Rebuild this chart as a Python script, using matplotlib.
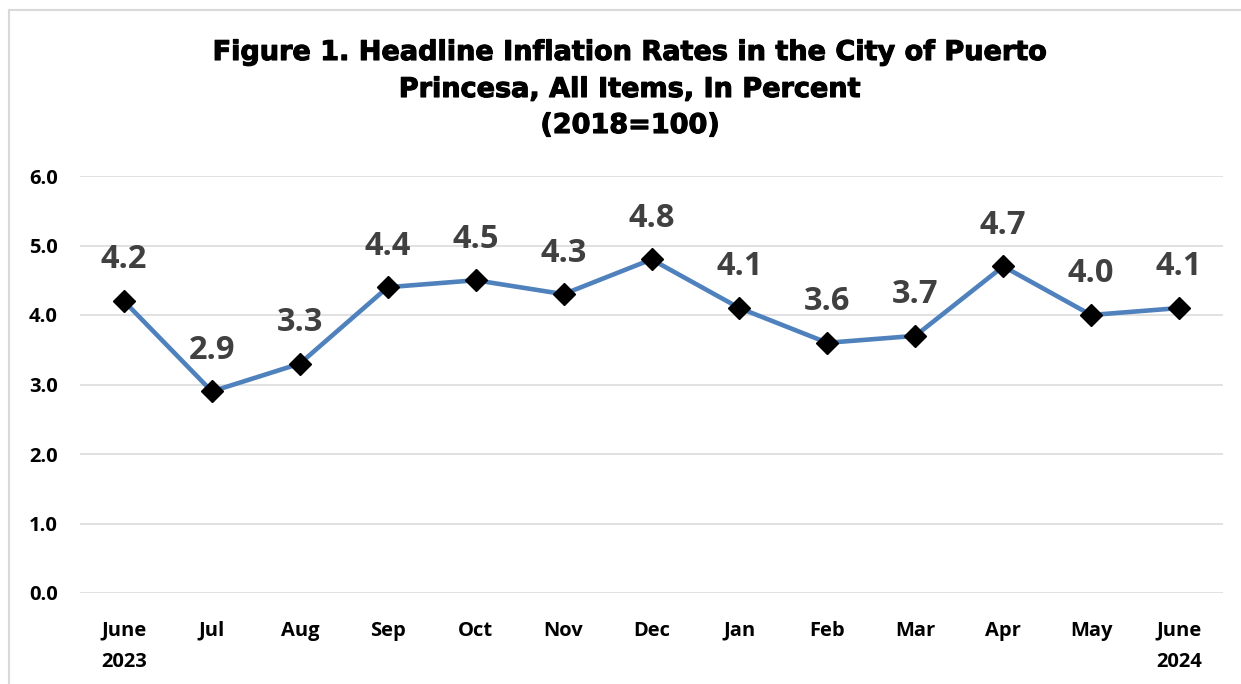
import matplotlib
matplotlib.use("Agg")
import matplotlib.pyplot as plt
import matplotlib.patheffects as pe
from matplotlib.lines import Line2D
import numpy as np

# data
months = ["June\n2023", "Jul", "Aug", "Sep", "Oct", "Nov", "Dec",
          "Jan", "Feb", "Mar", "Apr", "May", "June\n2024"]
inflation = [4.2, 2.9, 3.3, 4.4, 4.5, 4.3, 4.8, 4.1, 3.6, 3.7, 4.7, 4.0, 4.1]
y_ticks = [0.0, 1.0, 2.0, 3.0, 4.0, 5.0, 6.0]

title_lines = ["Figure 1. Headline Inflation Rates in the City of Puerto",
               "Princesa, All Items, In Percent",
               "(2018=100)"]

W, H = 1241, 684
fig = plt.figure(figsize=(W / 100, H / 100), dpi=100)
ax = fig.add_axes([80 / W, 1 - 593 / H, (1223 - 80) / W, (593 - 176) / H])

x = np.arange(len(months))
ax.plot(x, inflation, color="#4F81BD", linewidth=3.3, marker="D",
        markersize=11, markerfacecolor="black", markeredgecolor="black",
        zorder=3)

# data labels above points
for xi, v in zip(x, inflation):
    ax.annotate(f"{v:.1f}", (xi, v), xytext=(0, 23.5), textcoords="offset points",
                ha="center", va="baseline", fontsize=23.5, fontweight="bold",
                family="Open Sans", color="#404040")

ax.set_xlim(-0.5, 12.5)
ax.set_ylim(0, 6)
ax.set_yticks(y_ticks)
ax.set_yticklabels([f"{t:.1f}" for t in y_ticks])
ax.set_xticks(x)
ax.set_xticklabels(months, linespacing=1.75)
ax.grid(axis="y", color="#D9D9D9", linewidth=1.1)
ax.set_axisbelow(True)
for s in ax.spines.values():
    s.set_visible(False)
ax.tick_params(axis="both", length=0, labelsize=14.5)
ax.tick_params(axis="y", pad=16)
ax.tick_params(axis="x", pad=20)
for lab in ax.get_xticklabels() + ax.get_yticklabels():
    lab.set_fontfamily("Open Sans")
    lab.set_fontweight("bold")

# title, one text per line
for line, base in zip(title_lines, [60, 97, 133]):
    fig.text(630 / W, 1 - base / H, line, ha="center", va="baseline",
             fontsize=19.5, fontweight="bold", family="DejaVu Sans",
             path_effects=[pe.withStroke(linewidth=0.8, foreground="black")])

# chart frame (only top and left edges visible in the crop)
fig.add_artist(Line2D([9 / W, 9 / W], [0, 1 - 10 / H], color="#D9D9D9",
                      linewidth=1.5, transform=fig.transFigure))
fig.add_artist(Line2D([9 / W, 1], [1 - 10 / H, 1 - 10 / H], color="#D9D9D9",
                      linewidth=1.5, transform=fig.transFigure))

fig.savefig("out.png", dpi=100)
